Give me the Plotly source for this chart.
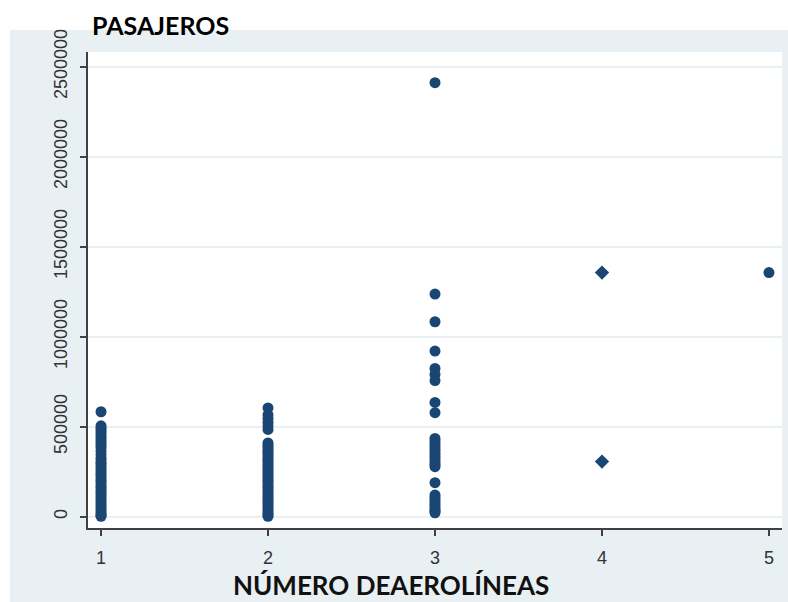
import plotly.graph_objects as go

# Number of airlines (x) and passengers (y)
airlines_1 = [583000, 505000, 492000, 478000, 465000, 450000, 437000, 424000,
              410000, 398000, 385000, 365000, 345000, 325000, 310000, 297000,
              284000, 270000, 256000, 243000, 230000, 216000, 203000, 190000,
              176000, 163000, 150000, 136000, 123000, 110000, 96000, 83000,
              70000, 57000, 44000, 31000, 19000, 8000, 2000]
airlines_2 = [604000, 565000, 545000, 525000, 505000, 485000, 410000, 397000,
              384000, 371000, 358000, 345000, 332000, 319000, 306000, 293000,
              280000, 267000, 254000, 241000, 228000, 215000, 202000, 189000,
              176000, 163000, 150000, 137000, 124000, 111000, 98000, 85000,
              72000, 59000, 46000, 33000, 20000, 9000, 2000]
airlines_3 = [2411000, 1237000, 1083000, 920000, 824000, 790000, 756000,
              635000, 578000, 435000, 420000, 405000, 390000, 375000, 360000,
              345000, 330000, 315000, 300000, 289000, 278000, 189000, 120000,
              107000, 94000, 81000, 68000, 55000, 42000, 30000, 22000]
airlines_4 = [1356000, 306000]
airlines_5 = [1356000]

x_ticks = [1, 2, 3, 4, 5]
y_ticks = [0, 500000, 1000000, 1500000, 2000000, 2500000]
y_tick_text = ["0", "500000", "1000000", "1500000", "2000000", "2500000"]

groups = [airlines_1, airlines_2, airlines_3, airlines_4, airlines_5]
xs, ys, syms = [], [], []
for n, vals in zip(x_ticks, groups):
    for v in vals:
        xs.append(n)
        ys.append(v)
        syms.append("diamond" if n == 4 else "circle")

NAVY = "#1a4673"
BG = "#e8f0f3"

fig = go.Figure()
fig.add_trace(go.Scatter(
    x=xs, y=ys, mode="markers",
    marker=dict(color=NAVY, size=11, symbol=syms, line=dict(width=0)),
    showlegend=False, hoverinfo="x+y",
))

W, H = 788, 602
L, R, T, B = 88, 6, 52, 74
pw, ph = W - L - R, H - T - B

def px_x(p):
    return (p - L) / pw

def px_y(p):
    return 1 - (p - T) / ph

fig.add_shape(type="rect", xref="paper", yref="paper",
              x0=px_x(10), x1=px_x(788), y0=px_y(602), y1=px_y(30),
              fillcolor=BG, line=dict(width=0), layer="below")
fig.add_shape(type="rect", xref="paper", yref="paper",
              x0=0, x1=1, y0=0, y1=1,
              fillcolor="white", line=dict(width=0), layer="below")

fig.add_annotation(text="<b>PASAJEROS</b>", xref="paper", yref="paper",
                   x=px_x(90), y=px_y(25), xanchor="left", yanchor="middle",
                   showarrow=False, font=dict(family="Lato", size=25, color="black"))
fig.add_annotation(text="<b>NÚMERO DEAEROLÍNEAS</b>", xref="paper", yref="paper",
                   x=px_x(391), y=px_y(585), xanchor="center", yanchor="middle",
                   showarrow=False, borderpad=0,
                   font=dict(family="Lato", size=26, color="#111111"))

tick_font = dict(family="Liberation Sans", size=18, color="#333333")

fig.update_xaxes(range=[0.922, 5.078], tickvals=x_ticks, ticktext=[str(v) for v in x_ticks],
                 showgrid=False, zeroline=False, showline=True, linecolor="#404040",
                 linewidth=2, ticks="outside", ticklen=6, tickwidth=2, tickcolor="#404040",
                 tickfont=tick_font, ticklabelstandoff=6)
fig.update_yaxes(range=[-62800, 2581667], tickvals=y_ticks, ticktext=y_tick_text,
                 tickangle=-90, showgrid=True, gridcolor=BG, gridwidth=2,
                 zeroline=False, showline=True, linecolor="#404040", linewidth=2,
                 ticks="outside", ticklen=6, tickwidth=2, tickcolor="#404040",
                 tickfont=tick_font, ticklabelstandoff=6)

fig.update_layout(width=W, height=H, margin=dict(l=L, r=R, t=T, b=B),
                  paper_bgcolor="white", plot_bgcolor="white")

fig.write_html(
    "out.html",
    config={"displayModeBar": False},
    post_script="document.body.style.margin='0';document.body.style.overflow='hidden';",
)
